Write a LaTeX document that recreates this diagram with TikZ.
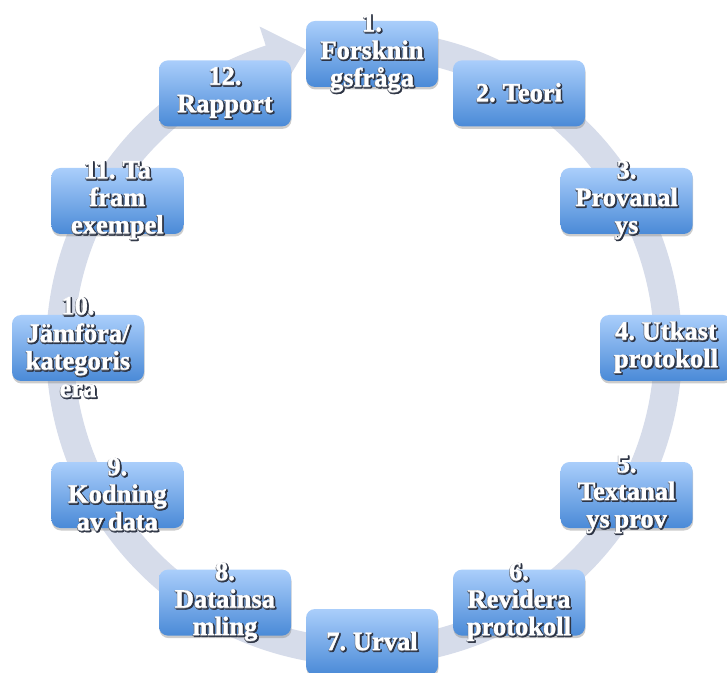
\documentclass[tikz,border=0pt]{standalone}
\usepackage{fontspec}
\setmainfont{Liberation Serif}[WordSpace=0.7, BoldFeatures={FakeBold=1.2}]
\usetikzlibrary{shadows}

\definecolor{ringgray}{RGB}{214,220,234}
\definecolor{boxtop}{RGB}{170,206,251}
\definecolor{boxbot}{RGB}{74,138,215}
\definecolor{txtshade}{RGB}{45,52,68}

% white text with a dark halo
\newcommand\shtext[1]{\leavevmode
  \rlap{\kern1.6pt\raisebox{-1.6pt}{\textcolor{txtshade}{#1}}}%
  \rlap{\kern0.6pt\raisebox{-1.9pt}{\textcolor{txtshade}{#1}}}%
  \rlap{\kern1.5pt\raisebox{-0.4pt}{\textcolor{txtshade}{#1}}}%
  \rlap{\kern-0.6pt\raisebox{-0.8pt}{\textcolor{txtshade!70!white}{#1}}}%
  #1}

\tikzset{
  procbox/.style={rounded corners=9pt, minimum width=132pt, minimum height=66pt,
    top color=boxtop, bottom color=boxbot,
    drop shadow={shadow xshift=0.5pt, shadow yshift=-2.5pt, opacity=0.4}},
  boxtext/.style={text=white, font=\fontsize{26.5}{27.5}\selectfont\bfseries,
    align=center, inner sep=0pt}
}

\begin{document}
\begin{tikzpicture}[x=1pt,y=1pt]
  \useasboundingbox (0,0) rectangle (727,672);

  % circular arrow behind the steps
  \begin{scope}[shift={(364,324)}]
    \fill[ringgray] (95:318) arc[start angle=95, end angle=-252, radius=318]
      -- (-252:338) -- (-259:304) -- (-252:270) -- (-252:290)
      arc[start angle=-252, end angle=95, radius=290] -- cycle;
  \end{scope}

  % the twelve steps, clockwise from the top
  \begin{scope}[shift={(372,324)}]
    \node[procbox, label={[boxtext]center:{\shtext{1.}\\\shtext{Forsknin}\\\shtext{gsfråga}}}] (s1) at (90:294) {};
    \node[procbox, label={[boxtext]center:{\shtext{2. Teori}}}] (s2) at (60:294) {};
    \node[procbox, label={[boxtext]center:{\shtext{3.}\\\shtext{Provanal}\\\shtext{ys}}}] (s3) at (30:294) {};
    \node[procbox, label={[boxtext]center:{\shtext{4. Utkast}\\\shtext{protokoll}}}] (s4) at (0:294) {};
    \node[procbox, label={[boxtext]center:{\shtext{5.}\\\shtext{Textanal}\\\shtext{ys prov}}}] (s5) at (-30:294) {};
    \node[procbox, label={[boxtext]center:{\shtext{6.}\\\shtext{Revidera}\\\shtext{protokoll}}}] (s6) at (-60:294) {};
    \node[procbox, label={[boxtext]center:{\shtext{7. Urval}}}] (s7) at (-90:294) {};
    \node[procbox, label={[boxtext]center:{\shtext{8.}\\\shtext{Datainsa}\\\shtext{mling}}}] (s8) at (-120:294) {};
    \node[procbox, label={[boxtext]center:{\shtext{9.}\\\shtext{Kodning}\\\shtext{av data}}}] (s9) at (-150:294) {};
    \node[procbox, label={[boxtext]center:{\shtext{10.}\\\shtext{Jämföra/}\\\shtext{kategoris}\\\shtext{era}}}] (s10) at (180:294) {};
    \node[procbox, label={[boxtext]center:{\shtext{11. Ta}\\\shtext{fram}\\\shtext{exempel}}}] (s11) at (150:294) {};
    \node[procbox, label={[boxtext]center:{\shtext{12.}\\\shtext{Rapport}}}] (s12) at (120:294) {};
  \end{scope}
\end{tikzpicture}
\end{document}
